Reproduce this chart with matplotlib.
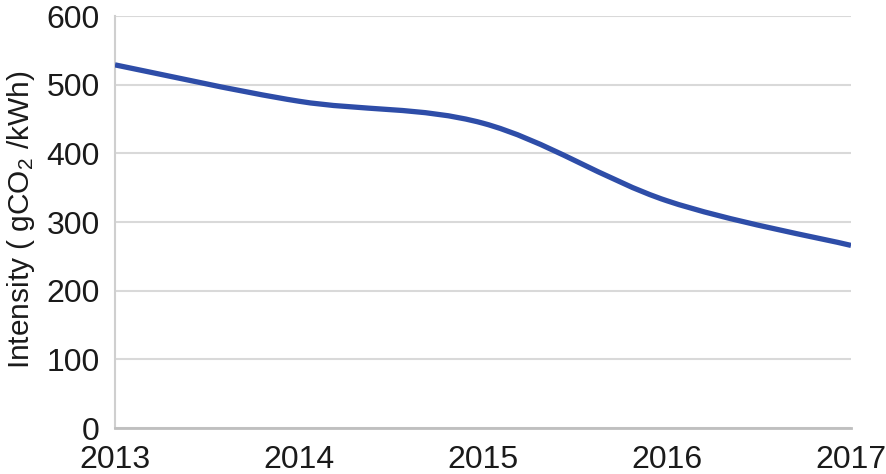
import matplotlib
matplotlib.use("Agg")
import matplotlib.pyplot as plt
from matplotlib.path import Path
from matplotlib.patches import PathPatch

years = [2013, 2014, 2015, 2016, 2017]
intensity = [529, 476, 444, 331, 266]
yticks = [0, 100, 200, 300, 400, 500, 600]

plt.rcParams['font.family'] = ['Liberation Sans', 'DejaVu Sans']
plt.rcParams['mathtext.default'] = 'regular'

fig = plt.figure(figsize=(8.86, 4.74), dpi=100)
ax = fig.add_axes([0.1298, 0.097, 0.8307, 0.869])

# Excel-style smoothed line (Catmull-Rom -> cubic Bezier)
pts = list(zip(years, intensity))
verts = [pts[0]]
codes = [Path.MOVETO]
n = len(pts)
for i in range(n - 1):
    p0 = pts[i - 1] if i > 0 else pts[i]
    p1 = pts[i]
    p2 = pts[i + 1]
    p3 = pts[i + 2] if i + 2 < n else pts[i + 1]
    c1 = (p1[0] + (p2[0] - p0[0]) / 6, p1[1] + (p2[1] - p0[1]) / 6)
    c2 = (p2[0] - (p3[0] - p1[0]) / 6, p2[1] - (p3[1] - p1[1]) / 6)
    verts += [c1, c2, p2]
    codes += [Path.CURVE4] * 3
patch = PathPatch(Path(verts, codes), facecolor='none', edgecolor='#2E4DA8',
                  lw=3.8, capstyle='butt', zorder=3)
ax.add_patch(patch)

ax.set_xlim(2013, 2017)
ax.set_ylim(0, 600)
ax.set_xticks(years)
ax.set_xticklabels([str(y) for y in years])
ax.set_yticks(yticks)
ax.yaxis.grid(True, color='#D9D9D9', lw=1.5)
ax.set_axisbelow(True)
for s in ['top', 'right']:
    ax.spines[s].set_visible(False)
ax.spines['left'].set_color('#CFCFCF')
ax.spines['left'].set_linewidth(1.5)
ax.spines['bottom'].set_color('#BFBFBF')
ax.spines['bottom'].set_linewidth(2)
ax.tick_params(axis='both', length=0, labelsize=23, colors='#1a1a1a')
ax.tick_params(axis='y', pad=11)
ax.tick_params(axis='x', pad=12)
ax.set_ylabel('Intensity ( gCO$_2$ /kWh)', fontsize=21.5, color='#1a1a1a')
ax.yaxis.set_label_coords(-0.106, 0.505)

fig.savefig('out.png', dpi=100)
